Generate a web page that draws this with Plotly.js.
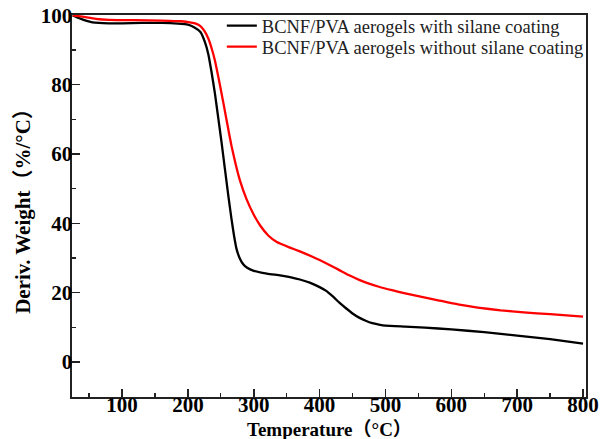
<!DOCTYPE html>
<html>
<head>
<meta charset="utf-8">
<script src="https://cdn.plot.ly/plotly-3.0.1.min.js"></script>
<style>html,body{margin:0;padding:0;background:#fff;}#chart{width:605px;height:439px;}</style>
</head>
<body>
<div id="chart"></div>
<script>
// Temperature (°C) and Deriv. Weight values
const tempWith = [25,35,45,55,65,80,100,130,160,185,200,210,219,226,231,236,241,246,251,256,261,266,270,274,279,284,290,300,320,340,355,370,385,400,410,420,430,440,450,460,470,480,490,500,530,560,600,650,700,750,800];
const weightWith = [100,99.2,98.5,98.0,97.8,97.7,97.7,97.8,97.8,97.6,97.3,96.5,95.2,92.2,88.8,83.5,77.5,70.5,63.5,56,48.5,41.5,36.5,32.5,29.8,28.2,27.2,26.3,25.5,25.0,24.5,23.8,22.9,21.6,20.5,18.9,17.1,15.5,14,12.8,11.9,11.2,10.8,10.5,10.2,9.9,9.4,8.6,7.6,6.6,5.3];

const tempWithout = [25,40,60,80,120,160,190,205,212,219,225,231,236,241,247,254,260,266,272,279,289,300,310,322,335,355,370,390,400,415,430,445,460,475,490,510,530,555,580,610,640,675,710,750,800];
const weightWithout = [100,99.6,99,98.7,98.6,98.5,98.3,97.9,97.6,96.9,95.5,93.3,90.5,87,81.5,74.6,68.5,62.5,57.5,52.4,47,42.5,39.3,36.5,34.6,33.0,31.9,30.3,29.4,28.0,26.5,25.0,23.7,22.6,21.7,20.7,19.8,18.8,17.8,16.6,15.7,14.9,14.3,13.8,13.1];

const seriesNames = ['BCNF/PVA aerogels with silane coating', 'BCNF/PVA aerogels without silane coating'];
const xTickVals = [100,200,300,400,500,600,700,800];
const yTickVals = [0,20,40,60,80,100];
const xTitle = 'Temperature（°C）';
const yTitle = 'Deriv. Weight（%/°C）';

const serif = '"Liberation Serif", "Times New Roman", "Noto Sans CJK SC", serif';

const traces = [
  {x: tempWith, y: weightWith, name: seriesNames[0], mode: 'lines', legend: 'legend',
   line: {color: '#000000', width: 2.3, shape: 'spline', smoothing: 0.4}},
  {x: tempWithout, y: weightWithout, name: seriesNames[1], mode: 'lines', legend: 'legend2',
   line: {color: '#ff0000', width: 2.3, shape: 'spline', smoothing: 0.4}}
];

const axisCommon = {
  showline: true, linecolor: '#222', linewidth: 1.6, mirror: true,
  ticks: 'inside', ticklen: 8, tickwidth: 1.5, tickcolor: '#222',
  showgrid: false, zeroline: false, automargin: false,
  tickfont: {family: serif, size: 21, color: '#000'}
};

const legendCommon = {x: 0.2915, xanchor: 'left', yanchor: 'top',
  bgcolor: 'rgba(0,0,0,0)', font: {family: serif, size: 18.5, color: '#222'}};

const layout = {
  width: 605, height: 439,
  margin: {l: 72, r: 19, t: 15, b: 42, autoexpand: false},
  paper_bgcolor: '#fff', plot_bgcolor: '#fff',
  showlegend: true,
  legend: Object.assign({}, legendCommon, {y: 1.0209}),
  legend2: Object.assign({}, legendCommon, {y: 0.9659}),
  xaxis: Object.assign({}, axisCommon, {
    range: [24, 804.5], tickvals: xTickVals, ticktext: xTickVals.map(v => '<b>' + v + '</b>'),
    ticklabelstandoff: -12,
    minor: {dtick: 50, tick0: 0, ticks: 'inside', ticklen: 4, tickwidth: 1.3, tickcolor: '#222'}
  }),
  yaxis: Object.assign({}, axisCommon, {
    range: [-10.1, 100.1], tickvals: yTickVals, ticktext: yTickVals.map(v => '<b>' + v + '</b>'),
    ticklabelstandoff: -6,
    minor: {dtick: 10, tick0: 0, ticks: 'inside', ticklen: 4, tickwidth: 1.3, tickcolor: '#222'},
    title: {text: '<b>' + yTitle + '</b>', standoff: 4,
            font: {family: serif, size: 21, color: '#000'}}
  }),
  annotations: [
    {text: '<b>' + xTitle + '</b>', xref: 'paper', yref: 'paper', x: 0.5, y: -0.0851,
     xanchor: 'center', yanchor: 'middle', showarrow: false,
     font: {family: serif, size: 19, color: '#000'}}
  ]
};

Plotly.newPlot('chart', traces, layout, {staticPlot: true, displayModeBar: false});
</script>
</body>
</html>
